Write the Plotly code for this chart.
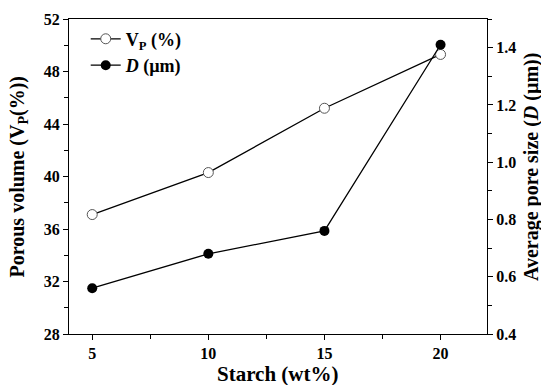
import plotly.graph_objects as go

starch = [5, 10, 15, 20]
vp = [37.1, 40.3, 45.2, 49.3]
d_um = [0.56, 0.68, 0.76, 1.41]

x_ticks = [5, 10, 15, 20]
y_ticks = [28, 32, 36, 40, 44, 48, 52]
y2_ticks = [0.4, 0.6, 0.8, 1.0, 1.2, 1.4]

x_title = "<b>Starch (wt%)</b>"
y_title = "<b>Porous volume (V<sub>P</sub>(%))</b>"
y2_title = "<b>Average pore size (<i>D</i> (µm))</b>"

font = "Liberation Serif"

fig = go.Figure()
fig.add_trace(go.Scatter(
    x=starch, y=vp, mode="lines+markers", name="<b>V<sub>P</sub> (%)</b>",
    line=dict(color="black", width=1.3),
    marker=dict(symbol="circle", size=10, color="white", line=dict(color="#555", width=1)),
    yaxis="y"))
fig.add_trace(go.Scatter(
    x=starch, y=d_um, mode="lines+markers", name="<b><i>D</i> (µm)</b>",
    line=dict(color="black", width=1.3),
    marker=dict(symbol="circle", size=10, color="black"),
    yaxis="y2"))

axis_common = dict(showline=True, linecolor="black", linewidth=1.2, ticks="outside",
                   ticklen=5, tickwidth=1.2, tickcolor="black", showgrid=False, zeroline=False,
                   tickfont=dict(family=font, size=16, color="black"))

fig.update_layout(
    width=541, height=385,
    margin=dict(l=69, r=54, t=19, b=51),
    paper_bgcolor="white", plot_bgcolor="white",
    font=dict(family=font, color="black"),
    showlegend=True,
    legend=dict(x=0.04, y=0.995, xanchor="left", yanchor="top", bgcolor="rgba(0,0,0,0)",
                font=dict(family=font, size=18, color="black"), tracegroupgap=2),
    xaxis=dict(range=[4, 22], tickvals=x_ticks, ticktext=[f"<b>{v}</b>" for v in x_ticks], mirror=True,
               minor=dict(ticks="outside", tickvals=[7.5, 12.5, 17.5], ticklen=4, tickcolor="black"),
               **axis_common),
    yaxis=dict(range=[28, 52], tickvals=y_ticks, ticktext=[f"<b>{v}</b>" for v in y_ticks],
               minor=dict(ticks="outside", dtick=2, ticklen=4, tickcolor="black"),
               **axis_common),
    yaxis2=dict(range=[0.4, 1.5], overlaying="y", side="right", anchor="x",
                tickvals=y2_ticks, ticktext=[f"<b>{v:.1f}</b>" for v in y2_ticks],
                minor=dict(ticks="outside", dtick=0.1, ticklen=4, tickcolor="black"),
                **axis_common),
    annotations=[
        dict(text=x_title, xref="paper", yref="paper", x=0.5, y=0, xanchor="center", yanchor="middle",
             yshift=-40, showarrow=False, font=dict(family=font, size=21, color="black")),
        dict(text=y_title, xref="paper", yref="paper", x=0, y=0.5, xanchor="center", yanchor="middle",
             xshift=-51, textangle=-90, showarrow=False, font=dict(family=font, size=20, color="black")),
        dict(text=y2_title, xref="paper", yref="paper", x=1, y=0.53, xanchor="center", yanchor="middle",
             xshift=44, textangle=-90, showarrow=False, font=dict(family=font, size=20, color="black")),
    ],
)

fig.write_html("out.html", config={"displayModeBar": False},
               post_script="document.body.style.margin='0';document.body.style.overflow='hidden';")
